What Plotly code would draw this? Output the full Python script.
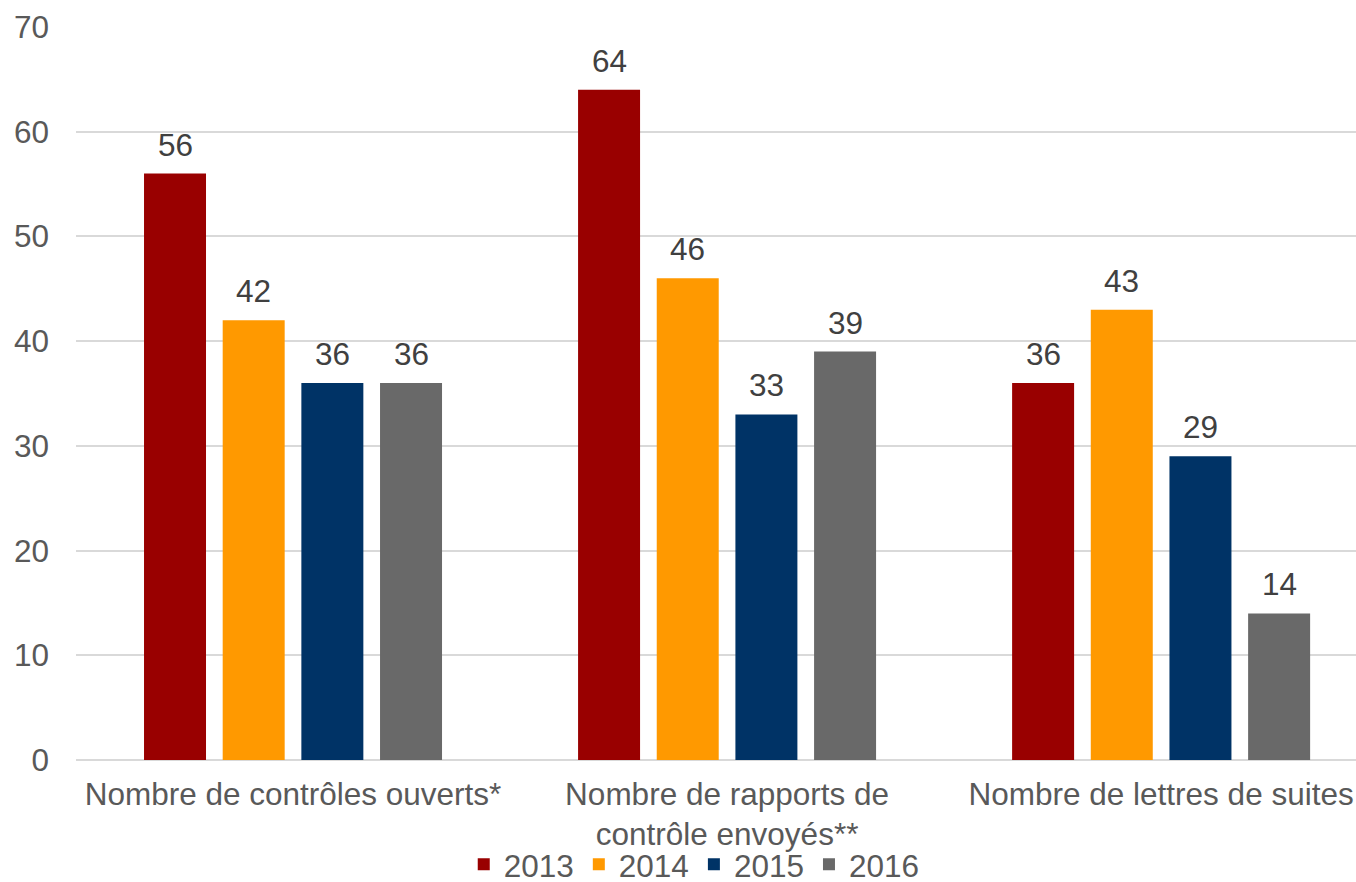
import plotly.graph_objects as go

# Data
categories = [
    "Nombre de contrôles ouverts*",
    "Nombre de rapports de<br>contrôle envoyés**",
    "Nombre de lettres de suites",
]
years = ["2013", "2014", "2015", "2016"]
values_2013 = [56, 64, 36]
values_2014 = [42, 46, 43]
values_2015 = [36, 33, 29]
values_2016 = [36, 39, 14]
series_values = [values_2013, values_2014, values_2015, values_2016]
colors = ["#990000", "#FF9900", "#003366", "#696969"]

W, H = 1356, 882
M_L, M_R, M_T, M_B = 76, 0, 27, 122
X_RANGE = [-0.5, 2.449]
BARGAP = 0.275
BARGROUPGAP = 0.212
FONT = "Liberation Sans, Arial, sans-serif"

fig = go.Figure()
for name, vals, col in zip(years, series_values, colors):
    fig.add_trace(go.Bar(
        name=name, x=categories, y=vals,
        marker=dict(color=col, line=dict(width=0)),
        hoverinfo="x+y+name",
    ))

# value labels above each bar, offset to its slot in the group
plot_w = W - M_L - M_R
cat_px = plot_w / (X_RANGE[1] - X_RANGE[0])
slot_px = cat_px * (1 - BARGAP) / len(years)
annotations = []
for i, vals in enumerate(series_values):
    for cat, v in zip(categories, vals):
        annotations.append(dict(
            x=cat, y=v, xref="x", yref="y",
            text=str(v), showarrow=False,
            xshift=(i - (len(years) - 1) / 2) * slot_px,
            yanchor="bottom", yshift=9,
            font=dict(family=FONT, size=31.5, color="#404040"),
        ))

fig.update_layout(
    width=W, height=H,
    margin=dict(l=M_L, r=M_R, t=M_T, b=M_B, pad=0, autoexpand=False),
    paper_bgcolor="white", plot_bgcolor="white",
    barmode="group", bargap=BARGAP, bargroupgap=BARGROUPGAP,
    font=dict(family=FONT, size=31.5, color="#595959"),
    showlegend=True,
    legend=dict(
        orientation="h", x=0.483, xanchor="center",
        yref="container", y=0.02, yanchor="middle",
        font=dict(family=FONT, size=31.5, color="#595959"),
        itemwidth=30, traceorder="normal",
        bgcolor="rgba(0,0,0,0)",
    ),
    annotations=annotations,
)
fig.update_xaxes(
    type="category", range=X_RANGE, showgrid=False, zeroline=False,
    showline=False, ticks="", ticklabelstandoff=12, automargin=False,
    tickfont=dict(family=FONT, size=31.5, color="#595959"),
)
fig.update_yaxes(
    range=[0, 70], dtick=10, showgrid=True, gridcolor="#D9D9D9", gridwidth=1.5,
    zeroline=True, zerolinecolor="#D9D9D9", zerolinewidth=1.5,
    showline=False, ticks="", ticklabelstandoff=26, automargin=False,
    tickfont=dict(family=FONT, size=31.5, color="#595959"),
)

fig.write_html("out.html")
